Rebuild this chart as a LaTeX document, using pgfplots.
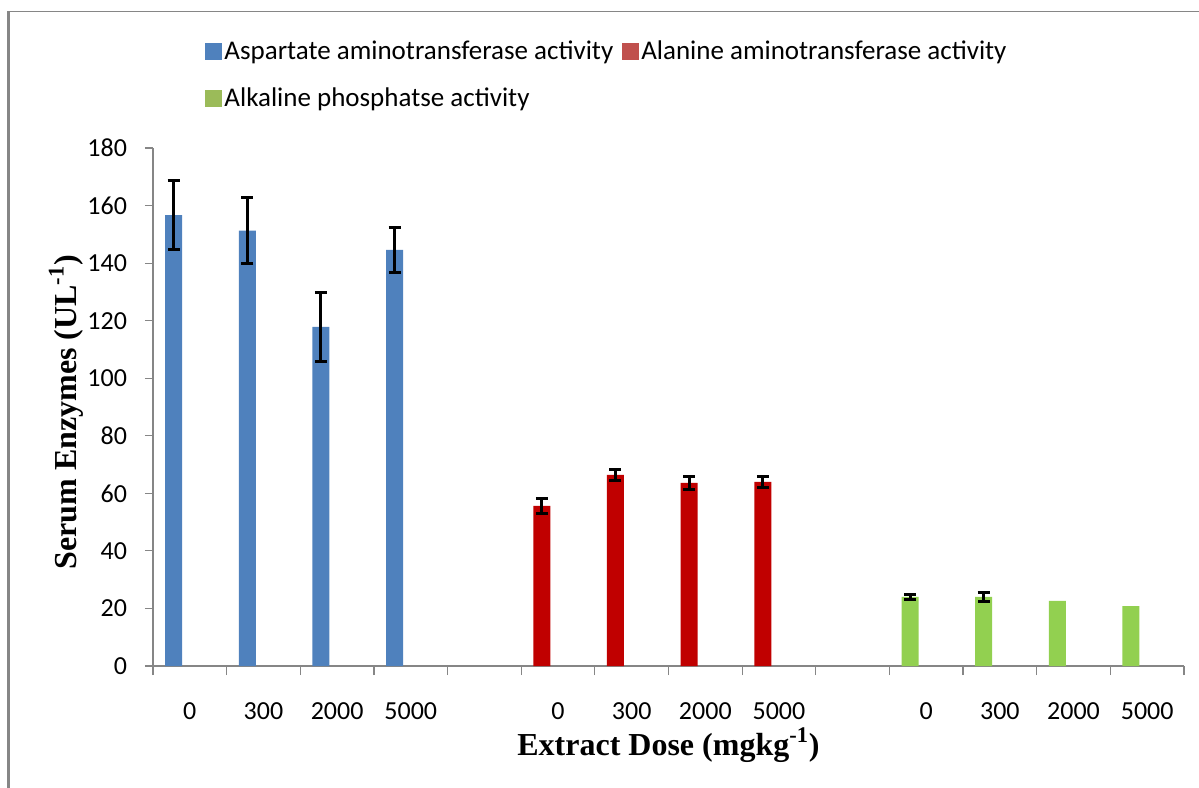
\documentclass[border=0pt]{standalone}
\usepackage{pgfplots}
\pgfplotsset{compat=1.18}
\usepackage{fontspec}
\setmainfont{Carlito}
\newfontfamily\timesf{Liberation Serif}
\definecolor{astb}{HTML}{4F81BD}
\definecolor{altb}{HTML}{C00000}
\definecolor{alpb}{HTML}{92D050}
\definecolor{altl}{HTML}{C0504D}
\definecolor{alpl}{HTML}{9BBB59}
\definecolor{axgray}{HTML}{868686}

\pgfplotstableread{
x y e
0.78 156.7 12.0
1.78 151.3 11.6
2.78 117.8 12.0
3.78 144.6 7.8
}\ast
\pgfplotstableread{
x y e
5.78 55.6 2.6
6.78 66.4 2.0
7.78 63.6 2.4
8.78 64.0 2.0
}\alt
\pgfplotstableread{
x y e
10.78 24.0 0.9
11.78 24.0 1.7
}\alpA
\pgfplotstableread{
x y
12.78 22.6
13.78 20.8
}\alpB

\begin{document}
\begin{tikzpicture}
\useasboundingbox (-76.5pt,-60.5pt) rectangle (523pt,333pt);
\draw[axgray, line width=1.5pt] (-72pt,-61pt) -- (-72pt,327.25pt);
\draw[axgray, line width=0.6pt] (-72.75pt,327.25pt) -- (524pt,327.25pt);
\begin{axis}[
  at={(0pt,0pt)}, anchor=south west,
  scale only axis, width=515.5pt, height=259pt,
  xmin=0.5, xmax=14.5, ymin=0, ymax=180,
  axis x line*=bottom, axis y line*=left,
  axis line style={axgray, line width=0.6pt, -},
  ytick={0,20,...,180},
  xtick={1,2,3,4,6,7,8,9,11,12,13,14},
  xticklabels={0,300,2000,5000,0,300,2000,5000,0,300,2000,5000},
  minor xtick={0.5,1.5,...,14.5},
  tick align=outside,
  major tick length=4pt, minor tick length=4.5pt,
  major x tick style={draw=none},
  minor x tick style={draw=axgray, line width=0.6pt},
  ytick style={draw=axgray, line width=0.6pt},
  /pgf/number format/assume math mode=true,
  ticklabel style={font=\fontsize{13}{13}\selectfont, text=black},
  xticklabel style={anchor=center, yshift=-18.5pt},
  yticklabel style={anchor=east, xshift=-5.5pt},
  xlabel={\timesf\bfseries Extract Dose (mgkg\textsuperscript{-1})},
  ylabel={\timesf\bfseries Serum Enzymes (UL\textsuperscript{-1})},
  every axis x label/.style={at={(axis description cs:0.5,-0.1525)}, anchor=center, font=\fontsize{16}{16}\selectfont},
  every axis y label/.style={at={(axis description cs:-0.0844,0.49)}, anchor=center, rotate=90, font=\fontsize{16}{16}\selectfont},
  legend columns=2,
  legend cell align=left,
  legend style={draw=none, fill=none, inner sep=0pt, outer sep=0pt,
    at={(axis description cs:0.0505,1.2124)}, anchor=north west,
    font=\fontsize{13.5}{15}\selectfont, row sep=10.1pt,
    nodes={inner sep=1.3pt},
    /tikz/every even column/.append style={column sep=3pt}},
]
\addlegendimage{legend image code/.code={\fill[astb] (0pt,-4pt) rectangle (8pt,4pt);}}
\addlegendentry{Aspartate aminotransferase activity}
\addlegendimage{legend image code/.code={\fill[altl] (0pt,-4pt) rectangle (8pt,4pt);}}
\addlegendentry{Alanine aminotransferase activity}
\addlegendimage{legend image code/.code={\fill[alpl] (0pt,-4pt) rectangle (8pt,4pt);}}
\addlegendentry{Alkaline phosphatse activity}

\addplot[ybar, bar width=8.5pt, bar shift=0pt, fill=astb, draw=none, forget plot,
  error bars/.cd, y dir=both, y explicit,
  error bar style={black, line width=1.5pt},
  error mark options={rotate=90, black, mark size=3pt, line width=1.5pt}]
  table[x=x, y=y, y error=e] {\ast};
\addplot[ybar, bar width=8.5pt, bar shift=0pt, fill=altb, draw=none, forget plot,
  error bars/.cd, y dir=both, y explicit,
  error bar style={black, line width=1.5pt},
  error mark options={rotate=90, black, mark size=3pt, line width=1.5pt}]
  table[x=x, y=y, y error=e] {\alt};
\addplot[ybar, bar width=8.5pt, bar shift=0pt, fill=alpb, draw=none, forget plot,
  error bars/.cd, y dir=both, y explicit,
  error bar style={black, line width=1.5pt},
  error mark options={rotate=90, black, mark size=3pt, line width=1.5pt}]
  table[x=x, y=y, y error=e] {\alpA};
\addplot[ybar, bar width=8.5pt, bar shift=0pt, fill=alpb, draw=none, forget plot]
  table[x=x, y=y] {\alpB};
\end{axis}
\end{tikzpicture}
\end{document}
